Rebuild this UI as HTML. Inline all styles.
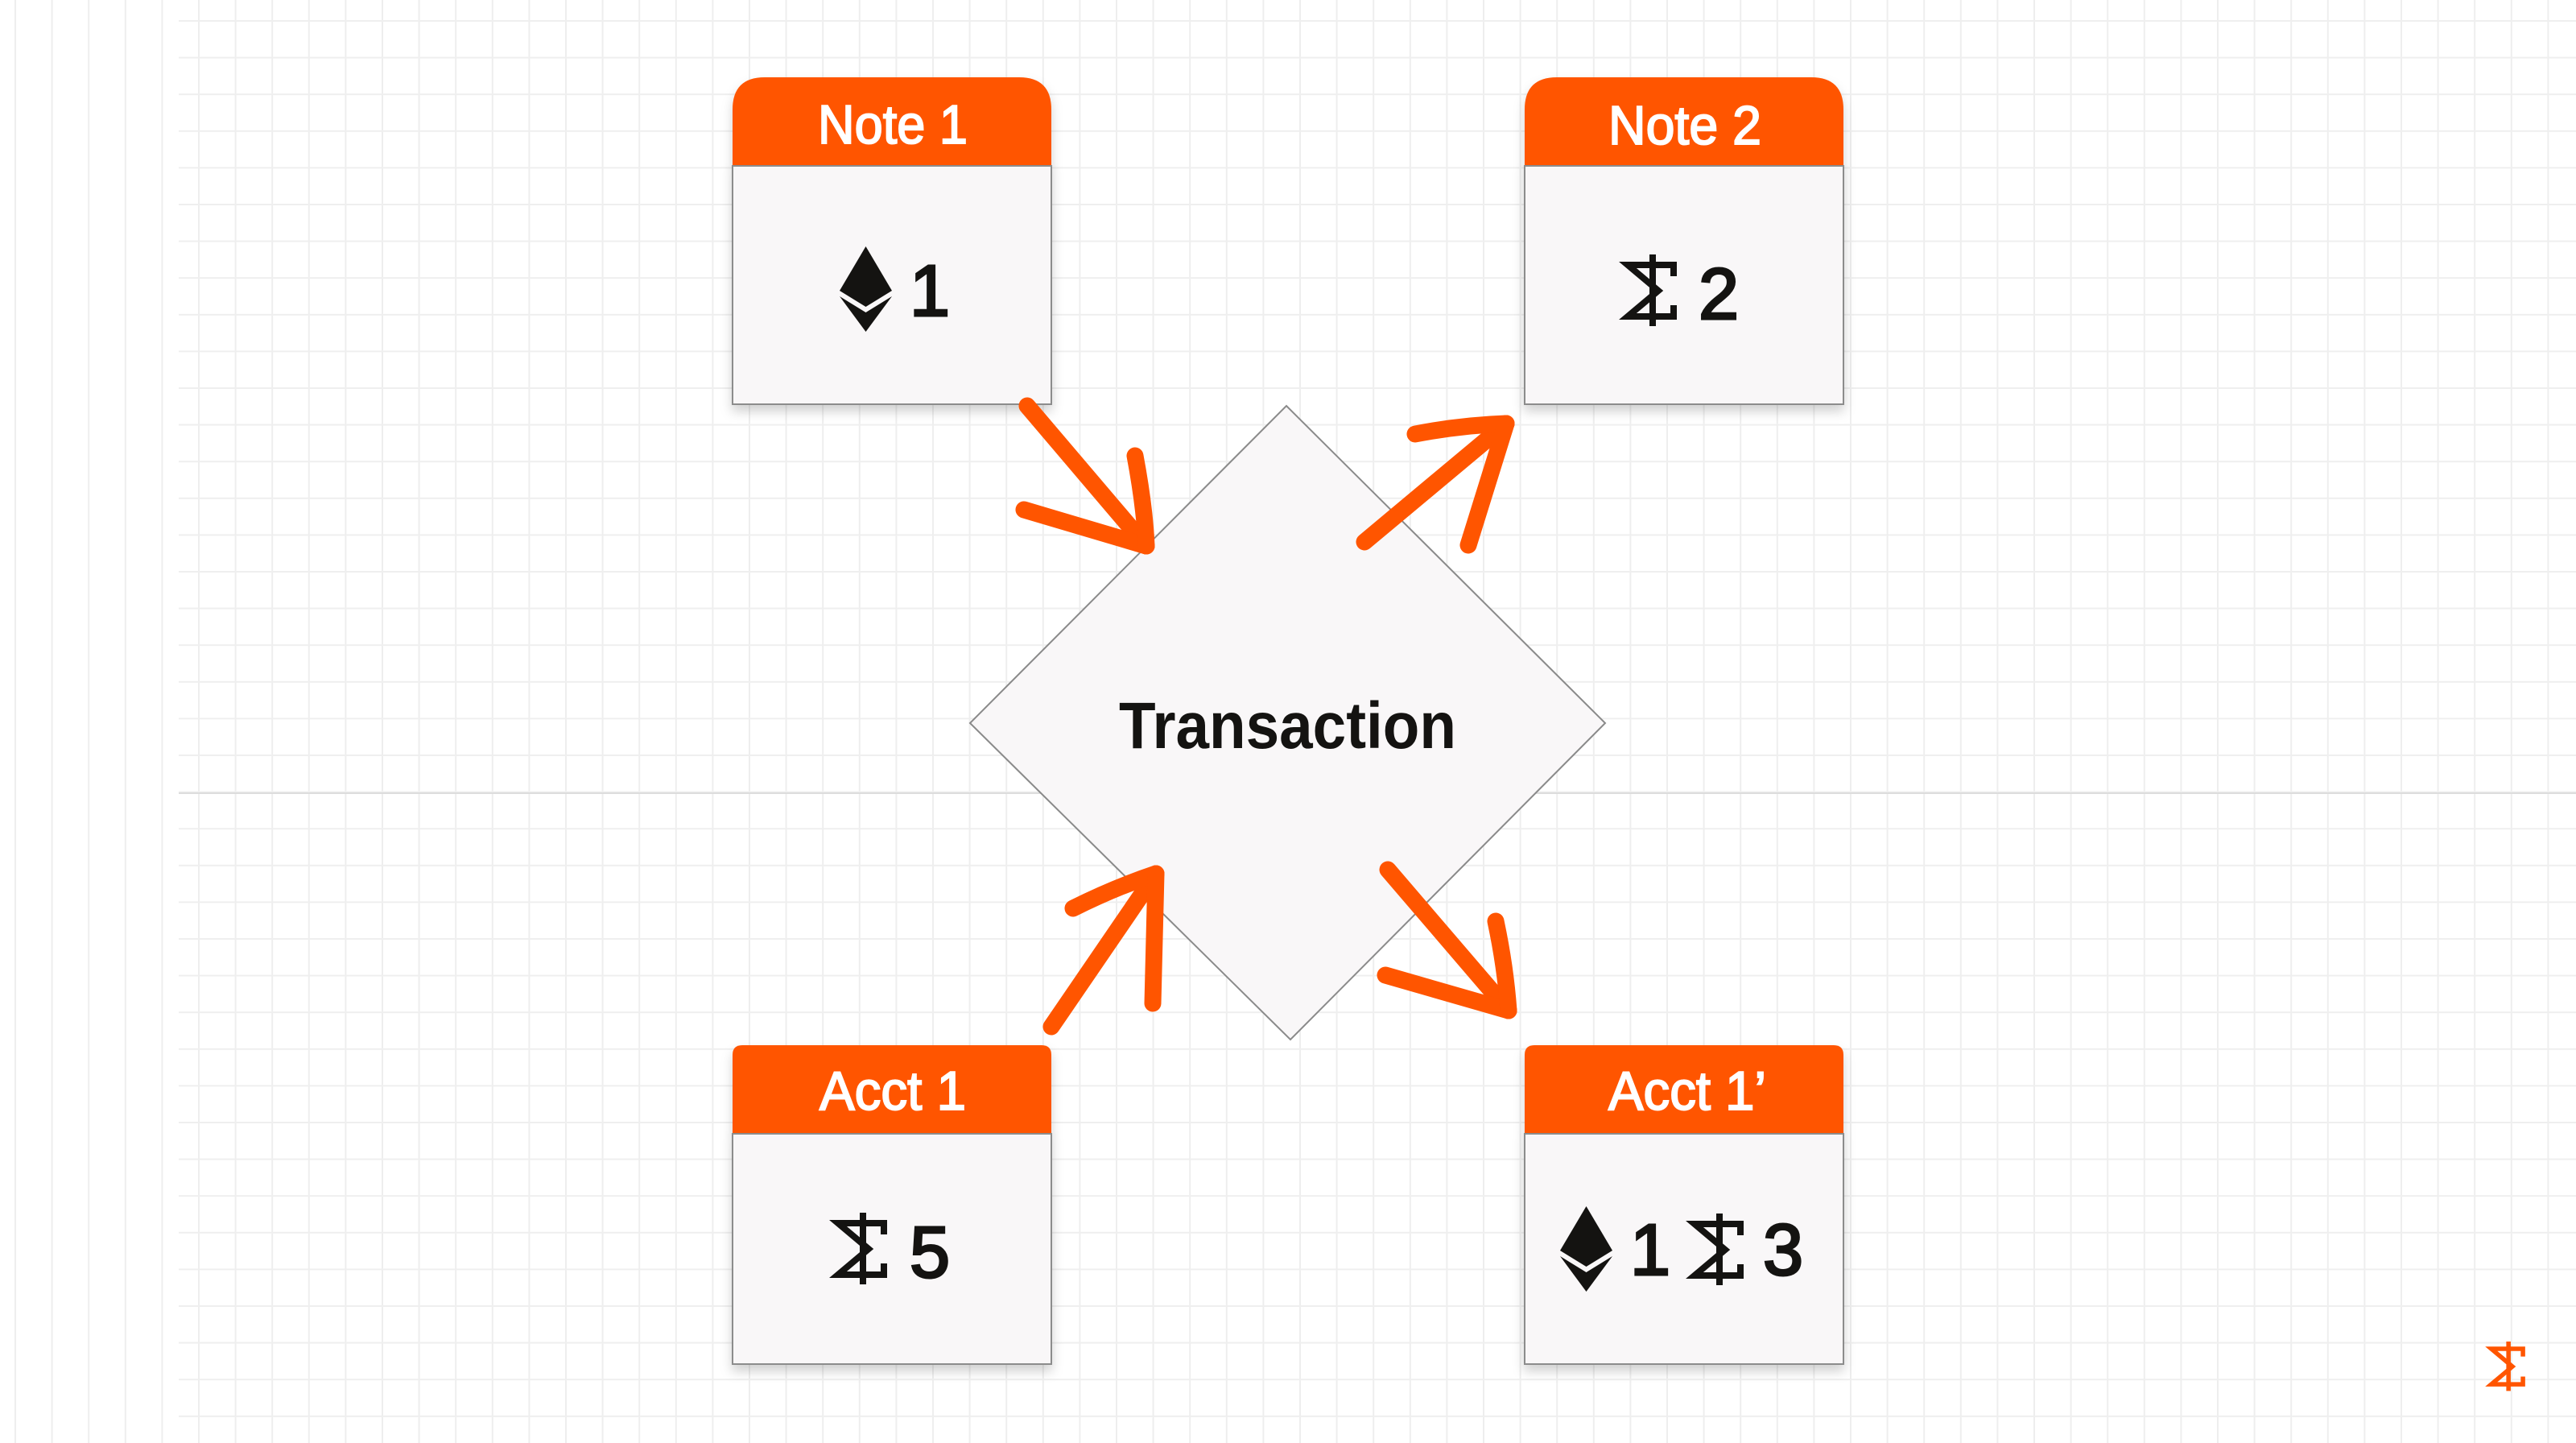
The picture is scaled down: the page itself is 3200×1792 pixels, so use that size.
<!DOCTYPE html>
<html><head><meta charset="utf-8"><style>
html,body{margin:0;padding:0;background:#fff;}
svg{display:block;}
text{font-family:"Liberation Sans",sans-serif;}
</style></head><body>
<svg width="3200" height="1792" viewBox="0 0 3200 1792" xmlns="http://www.w3.org/2000/svg">
<defs>
<pattern id="gv" x="18" y="0" width="45.6" height="1792" patternUnits="userSpaceOnUse">
<rect x="0" y="0" width="2" height="1792" fill="#eeeeee"/>
</pattern>
<pattern id="gh" x="0" y="25" width="3200" height="45.6" patternUnits="userSpaceOnUse">
<rect x="0" y="0" width="3200" height="2" fill="#efefef"/>
</pattern>
<filter id="sh" x="-10%" y="-10%" width="120%" height="125%">
<feDropShadow dx="0" dy="8" stdDeviation="7" flood-color="#000" flood-opacity="0.18"/>
</filter>
<g id="eth">
<polygon points="32.5,0 65,55 32.5,75 0,55" fill="#141311"/>
<polygon points="0,62 32.5,82 65,62 32.5,106" fill="#141311"/>
</g>
<g id="sig" fill="none" stroke-width="8" stroke-linejoin="miter" stroke-linecap="butt">
<path d="M61,27 L61,13 L4,13 L42,45 L4,77 L61,77 L61,63"/>
<line x1="35" y1="0" x2="35" y2="89"/>
</g>
</defs>
<rect width="3200" height="1792" fill="#fff"/>
<rect x="0" y="0" width="3200" height="1792" fill="url(#gv)"/>
<rect x="222" y="0" width="2978" height="1792" fill="url(#gh)"/>
<rect x="222" y="984" width="2978" height="2" fill="#dcdcdc"/>

<g filter="url(#sh)">
<path d="M910,206 L910,136 Q910,96 950,96 L1266,96 Q1306,96 1306,136 L1306,206 Z" fill="#ff5500"/>
<rect x="910" y="206" width="396" height="296" fill="#f9f7f8" stroke="#8c8c8c" stroke-width="2"/>
<path d="M1894,206 L1894,136 Q1894,96 1934,96 L2250,96 Q2290,96 2290,136 L2290,206 Z" fill="#ff5500"/>
<rect x="1894" y="206" width="396" height="296" fill="#f9f7f8" stroke="#8c8c8c" stroke-width="2"/>
<path d="M910,1408 L910,1310 Q910,1298 922,1298 L1294,1298 Q1306,1298 1306,1310 L1306,1408 Z" fill="#ff5500"/>
<rect x="910" y="1408" width="396" height="286" fill="#f9f7f8" stroke="#8c8c8c" stroke-width="2"/>
<path d="M1894,1408 L1894,1310 Q1894,1298 1906,1298 L2278,1298 Q2290,1298 2290,1310 L2290,1408 Z" fill="#ff5500"/>
<rect x="1894" y="1408" width="396" height="286" fill="#f9f7f8" stroke="#8c8c8c" stroke-width="2"/>
</g>

<g fill="#fff" stroke="#fff" stroke-width="2" font-size="68">
<text x="1016" y="178" textLength="186" lengthAdjust="spacingAndGlyphs">Note 1</text>
<text x="1998" y="179" textLength="190" lengthAdjust="spacingAndGlyphs">Note 2</text>
<text x="1018" y="1378" textLength="182" lengthAdjust="spacingAndGlyphs">Acct 1</text>
<text x="1998" y="1378" textLength="196" lengthAdjust="spacingAndGlyphs">Acct 1’</text>
</g>

<g fill="#141311" font-size="90">
<use href="#eth" x="1043" y="306"/>
<text x="1130" y="392" stroke="#141311" stroke-width="3">1</text>
<use href="#sig" x="2018" y="316" stroke="#141311"/>
<text x="2110" y="396" stroke="#141311" stroke-width="3">2</text>
<use href="#sig" x="1037" y="1506" stroke="#141311"/>
<text x="1130" y="1586" stroke="#141311" stroke-width="3">5</text>
<use href="#eth" x="1938" y="1498"/>
<text x="2025" y="1583" stroke="#141311" stroke-width="3">1</text>
<use href="#sig" x="2101" y="1507" stroke="#141311"/>
<text x="2190" y="1583" stroke="#141311" stroke-width="3">3</text>
</g>

<polygon points="1598,504 1994,898 1603,1291 1205,898" fill="#f9f7f8" stroke="#8a8a8a" stroke-width="2"/>
<text x="1390" y="929" font-size="82" font-weight="bold" fill="#141311" textLength="419" lengthAdjust="spacingAndGlyphs">Transaction</text>

<g fill="none" stroke="#ff5500" stroke-width="21" stroke-linecap="round" stroke-linejoin="round">
<path d="M1276,504 L1424,678"/>
<path d="M1272,633 L1424,678"/>
<path d="M1410,566 Q1422,630 1424,678"/>
<path d="M1695,673 L1871,526"/>
<path d="M1758,539 Q1815,528 1871,526"/>
<path d="M1824,677 L1871,526"/>
<path d="M1306,1275 L1436,1085"/>
<path d="M1333,1128 Q1385,1102 1436,1085"/>
<path d="M1432,1246 L1436,1085"/>
<path d="M1724,1080 L1874,1255"/>
<path d="M1721,1211 L1874,1255"/>
<path d="M1858,1144 Q1870,1200 1874,1255"/>
</g>

<g transform="translate(3092,1666) scale(0.69)">
<use href="#sig" stroke="#ff5500"/>
</g>
</svg>
</body></html>
